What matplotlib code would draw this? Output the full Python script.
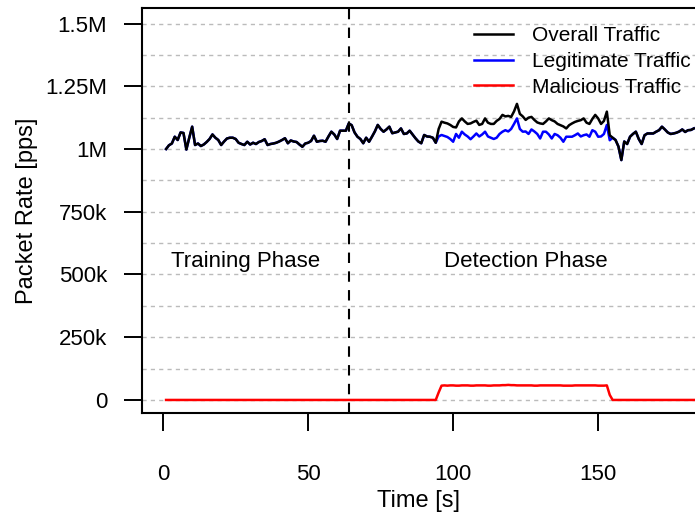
#!/usr/bin/env python3
# -*- coding: utf-8 -*-

"""
Packet rate over time: overall / legitimate / malicious traffic,
with training and detection phases.
"""

import numpy as np
import matplotlib
matplotlib.use("Agg")
import matplotlib.pyplot as plt

# --- data (k pps, one sample per second) ---------------------------------
time_s = list(range(1, 184))

overall_k = [
    1000, 1015, 1022, 1049, 1036, 1066, 1064, 998, 1045, 1089,
    1016, 1022, 1012, 1018, 1028, 1040, 1058, 1045, 1036, 1016,
    1030, 1042, 1045, 1045, 1040, 1025, 1020, 1016, 1029, 1018,
    1025, 1020, 1028, 1032, 1039, 1016, 1020, 1022, 1025, 1030,
    1036, 1043, 1023, 1034, 1030, 1028, 1018, 1009, 1022, 1025,
    1032, 1053, 1029, 1032, 1033, 1029, 1050, 1069, 1058, 1040,
    1073, 1073, 1073, 1102, 1095, 1066, 1049, 1040, 1023, 1045,
    1029, 1049, 1070, 1096, 1080, 1069, 1078, 1089, 1063, 1066,
    1069, 1082, 1060, 1062, 1073, 1058, 1043, 1030, 1023, 1056,
    1050, 1049, 1045, 1025, 1080, 1109, 1105, 1102, 1096, 1088,
    1086, 1110, 1122, 1110, 1100, 1102, 1108, 1113, 1096, 1100,
    1122, 1105, 1100, 1100, 1112, 1120, 1136, 1130, 1132, 1128,
    1150, 1180, 1140, 1130, 1116, 1125, 1128, 1116, 1106, 1102,
    1100, 1110, 1122, 1115, 1110, 1100, 1095, 1090, 1082, 1095,
    1102, 1108, 1112, 1115, 1122, 1105, 1100, 1120, 1136, 1122,
    1100, 1112, 1149, 1055, 1045, 1036, 1010, 956, 1030, 1020,
    1049, 1060, 1069, 1040, 1020, 1055, 1062, 1062, 1062, 1069,
    1075, 1089, 1078, 1066, 1060, 1062, 1065, 1070, 1078, 1068,
    1075, 1076, 1082,
]

# legitimate traffic during the attack window (t = 95 .. 154)
attack_start = 95
legit_attack_k = [
    1050, 1056, 1052, 1048, 1040, 1029, 1060, 1045, 1069, 1058,
    1050, 1039, 1050, 1062, 1050, 1058, 1069, 1050, 1045, 1040,
    1045, 1060, 1069, 1075, 1070, 1080, 1100, 1122, 1080, 1069,
    1070, 1060, 1078, 1070, 1060, 1042, 1069, 1069, 1058, 1042,
    1060, 1055, 1045, 1029, 1049, 1049, 1049, 1055, 1062, 1050,
    1055, 1058, 1049, 1075, 1069, 1049, 1050, 1060, 1096, 1035,
]

malicious_attack_k = [
    30, 57, 58, 57, 58, 58, 57, 57, 58, 58,
    58, 57, 57, 58, 58, 58, 58, 57, 57, 58,
    58, 58, 59, 59, 60, 59, 59, 58, 58, 58,
    58, 58, 58, 57, 57, 58, 58, 58, 58, 58,
    58, 58, 58, 57, 57, 57, 57, 58, 58, 58,
    58, 58, 58, 58, 58, 57, 57, 57, 58, 20,
]

y_ticks = [0, 250, 500, 750, 1000, 1250, 1500]
y_tick_labels = ["0", "250k", "500k", "750k", "1M", "1.25M", "1.5M"]
x_ticks = [0, 50, 100, 150]
phase_split = 64


def build_series():
    i0 = attack_start - time_s[0]
    i1 = i0 + len(legit_attack_k)
    overall = np.array(overall_k, dtype=float)
    legit = overall.copy()
    legit[i0:i1] = legit_attack_k
    malicious = np.zeros_like(overall)
    malicious[i0:i1] = malicious_attack_k
    return overall, legit, malicious


def main():
    plt.rcParams["font.family"] = ["Liberation Sans", "DejaVu Sans"]
    fs = 16

    overall, legit, malicious = build_series()

    fig = plt.figure(figsize=(6.95, 5.16), dpi=100)
    ax = fig.add_axes([142 / 695, 1 - 413 / 516, 1 - 142 / 695, 405 / 516])

    # grille horizontale tous les 125k
    for g in np.arange(0, 1501, 125):
        ax.axhline(g, color="#bbbbbb", lw=1.0, ls=(0, (3, 3)), zorder=0)

    ax.plot(time_s, overall, color="black", lw=1.8, label="Overall Traffic", zorder=3)
    ax.plot(time_s, legit, color="#0000ff", lw=1.8, label="Legitimate Traffic", zorder=2)
    ax.plot(time_s, malicious, color="#ff0000", lw=1.8, label="Malicious Traffic", zorder=3)
    ax.axvline(phase_split, color="black", lw=1.5, ls=(0, (5, 4)), zorder=4)

    ax.text(28.3, 553, "Training Phase", ha="center", va="center", fontsize=fs)
    ax.text(125, 553, "Detection Phase", ha="center", va="center", fontsize=fs)

    ax.set_xlim(-7.3, 183.4)
    ax.set_ylim(-52, 1562)
    ax.set_xticks(x_ticks)
    ax.set_yticks(y_ticks)
    ax.set_yticklabels(y_tick_labels)
    ax.tick_params(axis="both", direction="out", length=13, width=1.4,
                   labelsize=fs, colors="black")
    ax.tick_params(axis="y", pad=12)
    ax.tick_params(axis="x", pad=24)
    ax.spines["right"].set_visible(False)
    for s in ("left", "top", "bottom"):
        ax.spines[s].set_linewidth(1.5)

    ax.set_xlabel("Time [s]", fontsize=fs + 1, labelpad=3)
    ax.set_ylabel("Packet Rate [pps]", fontsize=fs + 1, labelpad=5)

    ax.legend(loc="upper left", bbox_to_anchor=(0.6, 0.955), frameon=False,
              fontsize=fs - 1, handlelength=1.9, handletextpad=0.9,
              labelspacing=0.32, borderpad=0, borderaxespad=0)

    fig.savefig("out.png", dpi=100)
    plt.close(fig)


if __name__ == "__main__":
    main()
